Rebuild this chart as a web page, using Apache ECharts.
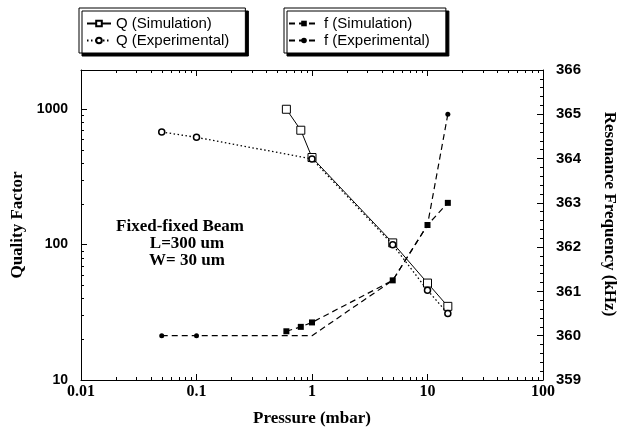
<!DOCTYPE html>
<html><head><meta charset="utf-8">
<script src="https://cdn.jsdelivr.net/npm/echarts@6/dist/echarts.min.js"></script>
<style>html,body{margin:0;padding:0;background:#fff}#c{width:627px;height:432px}</style>
</head><body><div id="c"></div>
<script>
// ---- data ----
const pressureQSim = [0.6, 0.8, 1, 5, 10, 15];
const qSim = [1000, 700, 440, 103, 52, 35];
const pressureQExp = [0.05, 0.1, 1, 5, 10, 15];
const qExp = [680, 620, 430, 100, 46, 31];
const pressureFSim = [0.6, 0.8, 1, 5, 10, 15];
const fSim = [360.1, 360.2, 360.3, 361.25, 362.5, 363.0];
const pressureFExp = [0.05, 0.1, 1, 5, 10, 15];
const fExp = [360.0, 360.0, 360.0, 361.25, 362.5, 365.0];
const fExpMeasured = [true, true, false, false, false, true];
const xTickLabels = ['0.01', '0.1', '1', '10', '100'];
const qTickLabels = ['10', '100', '1000'];
const xDecades = [0.01, 0.1, 1, 10];
const qDecades = [10, 100, 1000];
const minorSteps = [2, 3, 4, 5, 6, 7, 8, 9];

const X_MIN = 0.01, X_MAX = 100, Q_MIN = 10, Q_MAX = 1950, F_MIN = 359, F_MAX = 366;

function pair(xs, ys) { return xs.map((x, i) => [x, ys[i]]); }
function decadeLabel(labels, base) {
  return function (v) {
    const l = Math.log10(v), r = Math.round(l);
    if (Math.abs(l - r) > 1e-6) return '';
    const s = labels[r - base];
    return s === undefined ? '' : s;
  };
}

const minorData = [];
xDecades.forEach(d => minorSteps.forEach(s => minorData.push([d * s, Q_MIN, 0])));
qDecades.forEach(d => minorSteps.forEach(s => { if (d * s < Q_MAX) minorData.push([X_MIN, d * s, 1]); }));

function ln(x1, y1, x2, y2) {
  return { type: 'line', shape: { x1, y1, x2, y2 }, style: { stroke: '#000', lineWidth: 1 } };
}
function minorRender(params, api) {
  const kind = api.value(2);
  if (kind === 0) {
    const v = api.value(0);
    const b = api.coord([v, Q_MIN]), t = api.coord([v, Q_MAX]);
    const x = Math.round(b[0]) + 0.5;
    return { type: 'group', children: [ln(x, b[1], x, b[1] - 3), ln(x, t[1], x, t[1] + 3)] };
  } else {
    const v = api.value(1);
    const p = api.coord([X_MIN, v]);
    const y = Math.round(p[1]) + 0.5;
    return ln(p[0], y, p[0] + 3, y);
  }
}

const sans = '"Liberation Sans", Arial, sans-serif';
const serif = '"Liberation Serif", "Times New Roman", serif';
const black = '#000';

const chart = echarts.init(document.getElementById('c'), null, { renderer: 'canvas' });
chart.setOption({
  animation: false,
  backgroundColor: '#fff',
  grid: { left: 81, right: 84, top: 70, bottom: 51, containLabel: false },
  legend: [
    {
      data: ['Q (Simulation)', 'Q (Experimental)'],
      orient: 'vertical', left: 79, top: 8,
      itemGap: 2, itemWidth: 24, itemHeight: 7,
      padding: [8, 16, 5, 7],
      backgroundColor: '#fff', borderColor: black, borderWidth: 1,
      shadowColor: black, shadowBlur: 0, shadowOffsetX: 3, shadowOffsetY: 3,
      textStyle: { fontFamily: sans, fontSize: 15, color: black },
      selectedMode: false
    },
    {
      data: ['f (Simulation)', 'f (Experimental)'],
      orient: 'vertical', left: 284, top: 8,
      itemGap: 2, itemWidth: 30, itemHeight: 7,
      padding: [8, 16, 5, 4],
      backgroundColor: '#fff', borderColor: black, borderWidth: 1,
      shadowColor: black, shadowBlur: 0, shadowOffsetX: 3, shadowOffsetY: 3,
      textStyle: { fontFamily: sans, fontSize: 15, color: black },
      selectedMode: false
    }
  ],
  xAxis: [
    {
      type: 'log', logBase: 10, min: X_MIN, max: X_MAX, position: 'bottom',
      name: 'Pressure (mbar)', nameLocation: 'middle', nameGap: 30,
      nameTextStyle: { fontFamily: serif, fontWeight: 'bold', fontSize: 17, color: black },
      axisLine: { show: true, lineStyle: { color: black, width: 1 } },
      axisTick: { show: true, inside: true, length: 6, lineStyle: { color: black } },
      axisLabel: { show: true, margin: 4, fontFamily: serif, fontWeight: 'bold', fontSize: 16, color: black,
        formatter: decadeLabel(xTickLabels, -2) },
      splitLine: { show: false }
    },
    {
      type: 'log', logBase: 10, min: X_MIN, max: X_MAX, position: 'top',
      axisLine: { show: true, lineStyle: { color: black, width: 1 } },
      axisTick: { show: true, inside: true, length: 6, lineStyle: { color: black } },
      axisLabel: { show: false },
      splitLine: { show: false }
    }
  ],
  yAxis: [
    {
      type: 'log', logBase: 10, min: Q_MIN, max: Q_MAX, position: 'left',
      name: 'Quality Factor', nameLocation: 'middle', nameGap: 55,
      nameTextStyle: { fontFamily: serif, fontWeight: 'bold', fontSize: 17, color: black },
      axisLine: { show: true, lineStyle: { color: black, width: 1 } },
      axisTick: { show: true, inside: true, length: 6, lineStyle: { color: black } },
      axisLabel: { show: true, margin: 13, fontFamily: sans, fontWeight: 'bold', fontSize: 14, color: black,
        formatter: decadeLabel(qTickLabels, 1) },
      splitLine: { show: false }
    },
    {
      type: 'value', min: F_MIN, max: F_MAX, interval: 1, position: 'right',
      name: 'Resonance Frequency (kHz)', nameLocation: 'middle', nameGap: 58, nameRotate: -90,
      nameTextStyle: { fontFamily: serif, fontWeight: 'bold', fontSize: 17, color: black, padding: [0, 22, 0, 0] },
      axisLine: { show: true, lineStyle: { color: black, width: 1 } },
      axisTick: { show: true, inside: true, length: 6, lineStyle: { color: black } },
      minorTick: { show: true, splitNumber: 5, length: 3, lineStyle: { color: black } },
      axisLabel: { show: true, margin: 13, fontFamily: sans, fontWeight: 'bold', fontSize: 15, color: black },
      splitLine: { show: false }, minorSplitLine: { show: false }
    }
  ],
  graphic: [
    { type: 'text', x: 180, y: 227, style: { text: 'Fixed-fixed Beam', font: 'bold 17px ' + serif, fill: black, align: 'center', verticalAlign: 'middle' } },
    { type: 'text', x: 187, y: 244, style: { text: 'L=300 um', font: 'bold 17px ' + serif, fill: black, align: 'center', verticalAlign: 'middle' } },
    { type: 'text', x: 187, y: 261, style: { text: 'W= 30 um', font: 'bold 17px ' + serif, fill: black, align: 'center', verticalAlign: 'middle' } }
  ],
  series: [
    {
      name: 'Q (Simulation)', type: 'line', xAxisIndex: 0, yAxisIndex: 0,
      data: pair(pressureQSim, qSim),
      symbol: 'rect', symbolSize: 8, showAllSymbol: true,
      lineStyle: { color: black, width: 1, type: 'solid' },
      itemStyle: { color: '#fff', borderColor: black, borderWidth: 1 },
      z: 3
    },
    {
      name: 'Q (Experimental)', type: 'line', xAxisIndex: 0, yAxisIndex: 0,
      data: pair(pressureQExp, qExp),
      symbol: 'circle', symbolSize: 6, showAllSymbol: true,
      lineStyle: { color: black, width: 1.3, type: [1.5, 2.5] },
      itemStyle: { color: '#fff', borderColor: black, borderWidth: 1.5 },
      z: 4
    },
    {
      name: 'f (Simulation)', type: 'line', xAxisIndex: 0, yAxisIndex: 1,
      data: pair(pressureFSim, fSim),
      symbol: 'rect', symbolSize: 6, showAllSymbol: true,
      lineStyle: { color: black, width: 1.2, type: [6, 4] },
      itemStyle: { color: black, borderColor: black, borderWidth: 0 },
      z: 3
    },
    {
      name: 'f (Experimental)', type: 'line', xAxisIndex: 0, yAxisIndex: 1,
      data: pressureFExp.map((x, i) => ({ value: [x, fExp[i]], symbol: fExpMeasured[i] ? 'circle' : 'none' })),
      symbol: 'circle', symbolSize: 5, showAllSymbol: true,
      lineStyle: { color: black, width: 1.2, type: [6, 4] },
      itemStyle: { color: black, borderColor: black, borderWidth: 0 },
      z: 3
    },
    {
      name: 'minor-ticks', type: 'custom', xAxisIndex: 0, yAxisIndex: 0,
      data: minorData, encode: { x: 0, y: 1 }, renderItem: minorRender,
      silent: true, clip: false, z: 5
    }
  ]
});
</script>
</body></html>
